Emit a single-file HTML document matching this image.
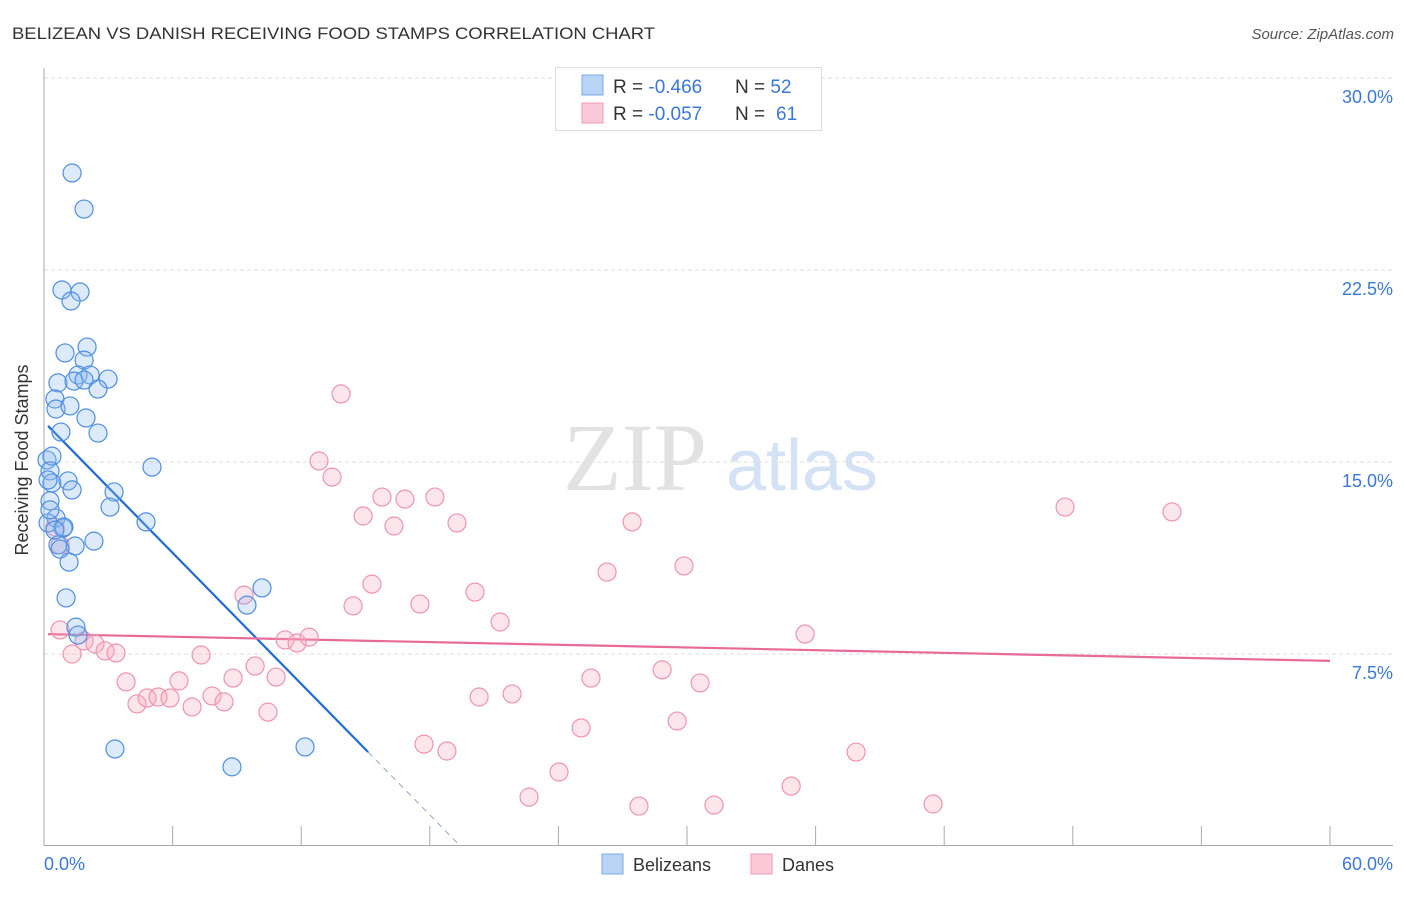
<!DOCTYPE html>
<html><head><meta charset="utf-8"><style>
body{margin:0;background:#fff;font-family:"Liberation Sans",sans-serif;}
</style></head><body>
<svg width="1406" height="892" xmlns="http://www.w3.org/2000/svg" id="chart">
<text x="12" y="39" font-size="17" fill="#333" textLength="643" lengthAdjust="spacingAndGlyphs">BELIZEAN VS DANISH RECEIVING FOOD STAMPS CORRELATION CHART</text>
<text x="1394" y="39" font-size="15" fill="#555" text-anchor="end" font-style="italic">Source: ZipAtlas.com</text>
<text x="24" y="456" font-size="18" fill="#333" text-anchor="middle" transform="rotate(-90 28 456)">Receiving Food Stamps</text>
<g>
<text x="635" y="490" font-size="96" fill="#e2e2e2" font-family="Liberation Serif,serif" text-anchor="middle">ZIP</text>
<text x="802" y="490" font-size="72" fill="#d4e2f5" text-anchor="middle">atlas</text>
</g>
<g id="grid"></g>
<g id="axes"></g>
<g id="lines"></g>
<g id="points"></g>
<g>
<rect x="555.5" y="67.5" width="266" height="63" fill="#fff" stroke="#ddd"/>
<rect x="582" y="75" width="21" height="20" fill="#b9d3f5" stroke="#7aa8e8"/>
<rect x="582" y="103" width="21" height="20" fill="#fbc9d7" stroke="#f09ab4"/>
<text x="613" y="93" font-size="19" fill="#333">R = <tspan fill="#3a78d8">-0.466</tspan><tspan x="735">N = </tspan><tspan fill="#3a78d8">52</tspan></text>
<text x="613" y="120" font-size="19" fill="#333">R = <tspan fill="#3a78d8">-0.057</tspan><tspan x="735">N = </tspan><tspan fill="#3a78d8" x="776">61</tspan></text>
</g>
<g>
<rect x="602" y="854" width="21" height="20" fill="#b9d3f5" stroke="#7aa8e8"/>
<text x="633" y="871" font-size="18" fill="#333">Belizeans</text>
<rect x="751" y="854" width="21" height="20" fill="#fbc9d7" stroke="#f09ab4"/>
<text x="782" y="871" font-size="18" fill="#333">Danes</text>
</g>
</svg>
<script>
const xTicks=[0,6,12,18,24,30,36,42,48,54,60];
const yTicks=[7.5,15,22.5,30];
const yTickLabels=["7.5%","15.0%","22.5%","30.0%"];
const blueX=[1.31,1.87,0.84,1.68,1.26,0.98,2.01,1.87,0.65,1.59,2.15,1.40,2.99,1.87,2.52,0.51,0.56,1.21,1.96,0.79,2.52,0.14,0.37,0.28,0.37,1.12,1.31,3.27,0.28,3.08,0.56,4.76,0.19,0.89,0.93,0.65,1.45,0.75,2.33,1.17,1.03,5.04,9.47,10.17,1.49,1.59,3.31,8.77,12.18,0.28,0.51,0.19];
const blueY=[26.29,24.88,21.72,21.64,21.29,19.26,19.49,18.98,18.09,18.40,18.40,18.16,18.24,18.20,17.85,17.46,17.07,17.19,16.72,16.17,16.13,15.08,15.23,14.65,14.18,14.26,13.91,13.83,13.48,13.24,12.81,12.66,12.62,12.42,12.46,11.76,11.72,11.60,11.91,11.09,9.69,14.80,9.41,10.08,8.55,8.24,3.79,3.09,3.87,13.13,12.34,14.30];
const pinkX=[13.86,12.83,13.44,14.89,15.77,16.84,18.24,16.33,19.27,0.51,0.75,15.30,9.33,14.42,17.54,20.11,21.28,26.27,27.44,29.86,47.64,52.63,35.51,0.75,1.31,1.87,2.38,2.85,3.36,3.83,4.34,4.81,5.32,5.88,6.30,6.91,7.33,7.84,8.40,8.82,9.85,10.45,10.83,11.25,11.81,12.37,17.73,18.80,20.30,21.84,22.63,24.03,25.06,25.52,27.76,28.84,29.54,30.61,31.26,34.86,37.89,41.48];
const pinkY=[17.66,15.04,14.41,12.89,13.63,13.55,13.63,12.50,12.62,12.46,11.76,10.23,9.80,9.38,9.45,9.92,8.75,10.70,12.66,10.94,13.24,13.05,8.28,8.44,7.50,8.01,7.89,7.62,7.54,6.41,5.55,5.78,5.82,5.78,6.45,5.43,7.46,5.86,5.63,6.56,7.03,5.23,6.60,8.05,7.93,8.16,3.98,3.71,5.82,5.94,1.91,2.89,4.61,6.56,1.56,6.88,4.88,6.37,1.60,2.34,3.67,1.64];
const blueTrend=[16.57,-0.853];
const pinkTrend=[8.28,-0.0175];
const NS="http://www.w3.org/2000/svg";
const X0=44,X1=1330,Y0=846,PPY=25.6;
function sx(v){return X0+(v/60)*(X1-X0);}
function sy(v){return Y0-v*PPY;}
function mk(tag,attrs,parent){const e=document.createElementNS(NS,tag);for(const k in attrs)e.setAttribute(k,attrs[k]);parent.appendChild(e);return e;}
const grid=document.getElementById('grid'),axes=document.getElementById('axes'),lines=document.getElementById('lines'),pts=document.getElementById('points');
yTicks.forEach((t,i)=>{
 const g=mk('line',{x1:X0,x2:1393,y1:sy(t),y2:sy(t),stroke:'#ddd','stroke-dasharray':'4,3'},grid);
 
 
 const l=mk('text',{x:1393,y:sy(t)+25,'font-size':18,fill:'#3a78d8','text-anchor':'end'},axes);
 l.textContent=yTickLabels[i];
 
 
});
const ya=mk('line',{x1:X0,x2:X0,y1:68,y2:846,stroke:'#aaa'},axes);


const xa=mk('line',{x1:X0,x2:1393,y1:845.5,y2:845.5,stroke:'#aaa'},axes);


xTicks.forEach(t=>{
 const tk=mk('line',{x1:sx(t),x2:sx(t),y1:826,y2:845,stroke:'#aaa'},axes);
 
 
});
[[0,'0.0%','start',44],[60,'60.0%','end',1393]].forEach(a=>{
 const l=mk('text',{x:a[3],y:870,'font-size':18,fill:'#3a78d8','text-anchor':a[2]},axes);
 l.textContent=a[1];
 
 
});
function dot(x,y,fill,stroke,name){
 const c=mk('circle',{cx:sx(x),cy:sy(y),r:9,fill:fill,'fill-opacity':0.3,stroke:stroke,'stroke-width':1.2},pts);
 
 
}
pinkX.forEach((x,i)=>dot(x,pinkY[i],'#f7a9c0','#ee93ae','dane-point'));
blueX.forEach((x,i)=>dot(x,blueY[i],'#8fb9ee','#4d8ee2','belizean-point'));
const bEnd=15.12,bZero=-blueTrend[0]/blueTrend[1];
const bl=mk('line',{x1:sx(0.19),y1:sy(blueTrend[0]+blueTrend[1]*0.19),x2:sx(bEnd),y2:sy(blueTrend[0]+blueTrend[1]*bEnd),stroke:'#1e6ad6','stroke-width':2.2},lines);


const bd=mk('line',{x1:sx(bEnd),y1:sy(blueTrend[0]+blueTrend[1]*bEnd),x2:sx(bZero),y2:sy(0),stroke:'#8fa8c8','stroke-width':1,'stroke-dasharray':'6,5'},lines);


const pl=mk('line',{x1:sx(0.19),y1:sy(pinkTrend[0]+pinkTrend[1]*0.19),x2:sx(60),y2:sy(pinkTrend[0]+pinkTrend[1]*60),stroke:'#e8699a','stroke-width':2.2},lines);


</script>
</body></html>
